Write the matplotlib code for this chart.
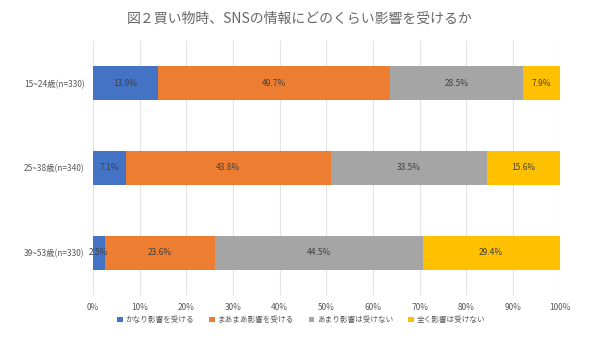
import numpy as np
import matplotlib.pyplot as plt

plt.rcParams['font.family'] = ['Noto Sans CJK JP', 'DejaVu Sans']

groups = ['15~24歳(n=330)', '25~38歳(n=340)', '39~53歳(n=330)']
series = ['かなり影響を受ける', 'まあまあ影響を受ける', 'あまり影響は受けない', '全く影響は受けない']
values = [
    [13.9, 7.1, 2.5],
    [49.7, 43.8, 23.6],
    [28.5, 33.5, 44.5],
    [7.9, 15.6, 29.4],
]
colors = ['#4472C4', '#ED7D31', '#A5A5A5', '#FFC000']

fig = plt.figure(figsize=(6, 3.38), dpi=100)
ax = fig.add_axes([0.155, 0.127, 0.778, 0.752])

y = np.arange(len(groups))
left = np.zeros(len(groups))
for name, vals, c in zip(series, values, colors):
    vals = np.array(vals)
    ax.barh(y, vals, left=left, height=0.4, color=c, label=name, zorder=2)
    for yi, l, v in zip(y, left, vals):
        ax.text(l + v / 2, yi, f'{v:.1f}%', ha='center', va='center',
                fontsize=6, color='#404040', zorder=3)
    left += vals

ax.set_xlim(0, 100)
ax.set_ylim(2.5, -0.5)
ax.set_xticks(np.arange(0, 101, 10))
ax.set_xticklabels([f'{t}%' for t in range(0, 101, 10)])
ax.set_yticks(y)
ax.set_yticklabels(groups)
ax.tick_params(axis='both', length=0, labelsize=6, colors='#595959', pad=6)
ax.grid(axis='x', color='#E3E3E3', linewidth=0.8, zorder=0)
for s in ax.spines.values():
    s.set_visible(False)

fig.suptitle('図２買い物時、SNSの情報にどのくらい影響を受けるか', y=0.965,
             fontsize=10, color='#666666')
fig.legend(loc='lower center', bbox_to_anchor=(0.502, 0.02), ncol=4, frameon=False,
           fontsize=5.5, labelcolor='#595959', handlelength=0.7, handleheight=0.7,
           handletextpad=0.35, columnspacing=2.0)

fig.savefig('out.png', dpi=100)
